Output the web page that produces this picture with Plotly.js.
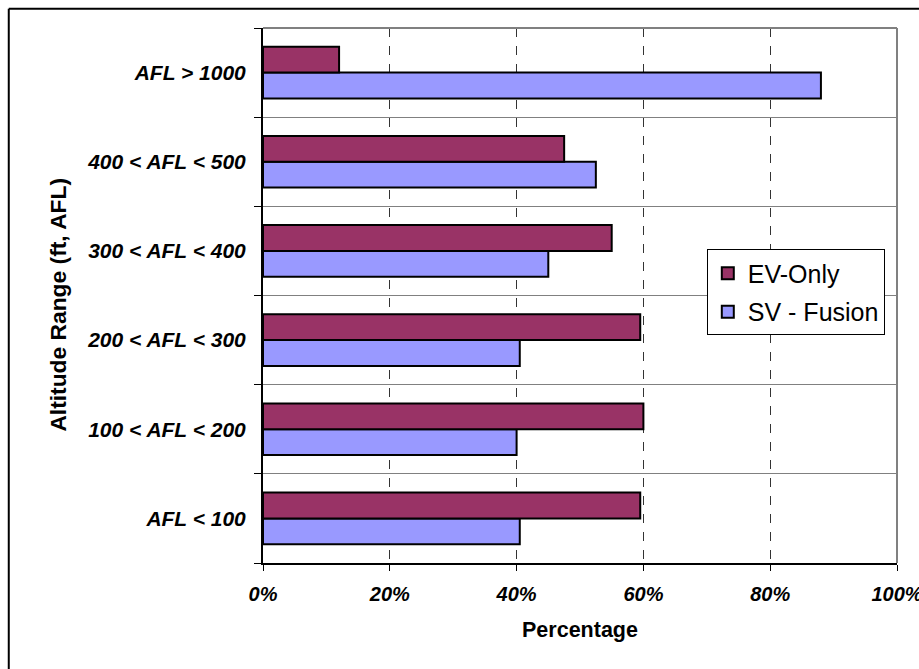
<!DOCTYPE html>
<html>
<head>
<meta charset="utf-8">
<script src="https://cdn.plot.ly/plotly-3.0.1.min.js"></script>
<style>body{margin:0;padding:0;background:#fff}#chart{width:919px;height:669px}</style>
</head>
<body>
<div id="chart"></div>
<script>
var categories = ["AFL < 100", "100 < AFL < 200", "200 < AFL < 300", "300 < AFL < 400", "400 < AFL < 500", "AFL > 1000"];
var evOnly = [0.595, 0.60, 0.595, 0.55, 0.475, 0.12];
var svFusion = [0.405, 0.40, 0.405, 0.45, 0.525, 0.88];
var xTickVals = [0, 0.2, 0.4, 0.6, 0.8, 1.0];
var xTickText = ["0%", "20%", "40%", "60%", "80%", "100%"];
var yTitle = "Altitude Range (ft, AFL)";
var xTitle = "Percentage";

var traces = [
  {type: "bar", orientation: "h", name: "SV - Fusion", legendgroup: "sv", legendrank: 2, y: categories, x: svFusion,
   marker: {color: "#9999FF", line: {color: "#000", width: 2}}},
  {type: "bar", orientation: "h", name: "EV-Only", legendgroup: "ev", legendrank: 1, y: categories, x: evOnly,
   marker: {color: "#993366", line: {color: "#000", width: 2}}}
];

var fontFam = "Liberation Sans, Arial, sans-serif";
var layout = {
  width: 919, height: 669,
  margin: {l: 263, r: 22, t: 28, b: 106},
  paper_bgcolor: "#fff", plot_bgcolor: "#fff",
  barmode: "group", bargap: 0.42, bargroupgap: 0,
  font: {family: fontFam, color: "#000"},
  xaxis: {
    range: [0, 1], tickvals: xTickVals, ticktext: xTickText,
    showgrid: true, gridcolor: "#333", griddash: "dash", gridwidth: 1,
    showline: true, linecolor: "#000", linewidth: 2,
    ticks: "outside", ticklen: 6, tickcolor: "#000", ticklabelstandoff: 6,
    ticklabeloverflow: "allow",
    tickfont: {size: 20, weight: "bold", style: "italic", color: "#000"},
    title: {text: xTitle, font: {size: 21.5, weight: "bold", color: "#000"}, standoff: 18},
    zeroline: false, fixedrange: true
  },
  yaxis: {
    type: "category", tickson: "boundaries",
    showgrid: true, gridcolor: "#808080", gridwidth: 1,
    showline: true, linecolor: "#000", linewidth: 2,
    ticks: "outside", ticklen: 7, tickcolor: "#000", ticklabelstandoff: 11,
    tickfont: {size: 21, weight: "bold", style: "italic", color: "#000"},
    fixedrange: true
  },
  annotations: [
    {text: yTitle, xref: "paper", yref: "paper", x: -0.3233, y: 0.483,
     xanchor: "center", yanchor: "middle", textangle: -90, showarrow: false,
     font: {size: 22.8, weight: "bold", color: "#000", family: fontFam}}
  ],
  legend: {
    x: 0.70, y: 0.586, xanchor: "left", yanchor: "top",
    traceorder: "grouped", tracegroupgap: 3,
    bgcolor: "#fff", bordercolor: "#000", borderwidth: 1,
    font: {size: 25, color: "#000", family: fontFam},
    itemwidth: 30
  },
  showlegend: true,
  shapes: [
    {type: "line", xref: "paper", yref: "paper", x0: 1, x1: 1, y0: 0, y1: 1, line: {color: "#808080", width: 2}},
    {type: "line", xref: "paper", yref: "paper", x0: 0, x1: 1, y0: 1, y1: 1, line: {color: "#808080", width: 2}},
    {type: "line", xref: "paper", yref: "paper", x0: -0.401, x1: 1.1, y0: 1.036, y1: 1.036, line: {color: "#000", width: 2}},
    {type: "line", xref: "paper", yref: "paper", x0: -0.401, x1: -0.401, y0: 1.036, y1: -0.3, line: {color: "#000", width: 2}}
  ]
};

Plotly.newPlot("chart", traces, layout, {displayModeBar: false, staticPlot: true});
</script>
</body>
</html>
